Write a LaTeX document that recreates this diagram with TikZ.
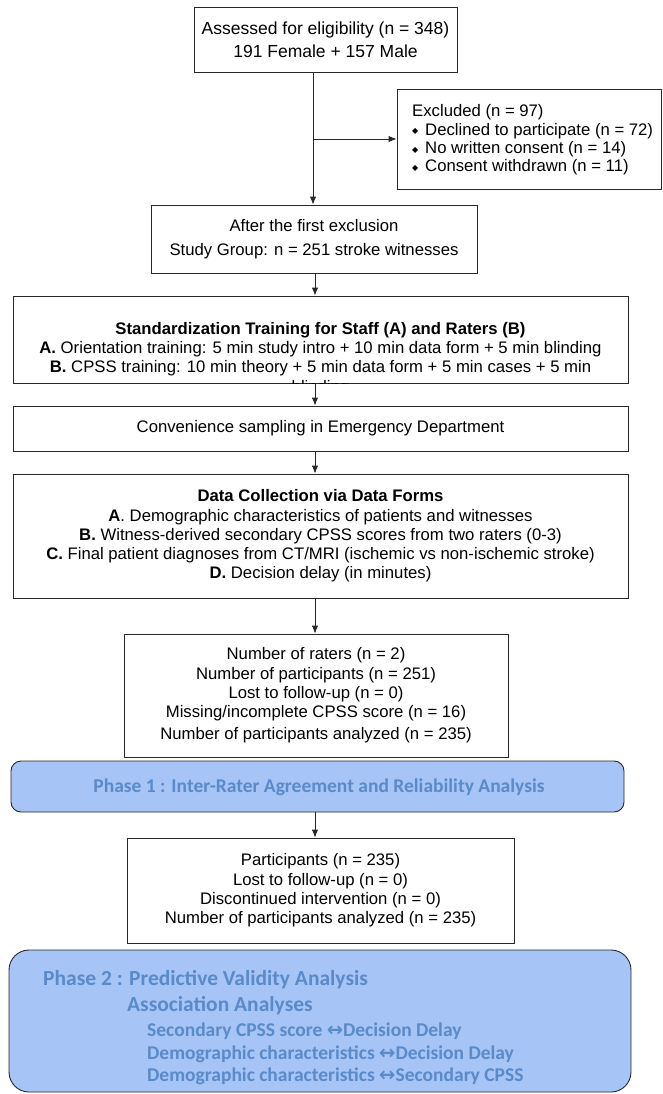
\documentclass[tikz,border=0pt]{standalone}
\usepackage{fontspec}
\setmainfont{Liberation Sans}
\newfontfamily\calfont{Carlito}
\newfontfamily\dvsfont{DejaVu Sans}
\usetikzlibrary{arrows.meta}
\definecolor{phfill}{RGB}{166,196,245}
\definecolor{phtxt}{RGB}{90,138,200}
\definecolor{lineclr}{RGB}{40,40,40}
\newcommand{\dbullet}{\makebox[13pt][l]{\raisebox{1.5pt}{\dvsfont\fontsize{8}{8}\selectfont ◆}}}
\newcommand{\lra}{{\dvsfont ↔}}
\begin{document}
\begin{tikzpicture}[x=1pt,y=-1pt,
  box/.style={draw=lineclr, line width=0.9pt, inner sep=0pt, align=center,
    font=\fontsize{16.7}{19.3}\selectfont},
  txt/.style={inner sep=0pt, align=center, font=\fontsize{16.7}{19.3}\selectfont},
  arr/.style={draw=lineclr, line width=0.9pt, -{Latex[length=8pt,width=6.5pt]}},
  phase/.style={draw=lineclr, line width=0.9pt, fill=phfill, inner sep=0pt},
  phhead/.style={text=phtxt, inner sep=0pt, anchor=base west,
    font=\calfont\bfseries\fontsize{21.5}{25}\selectfont},
  phsub/.style={text=phtxt, inner sep=0pt, anchor=base west,
    font=\calfont\bfseries\fontsize{19.5}{23}\selectfont}
]
\useasboundingbox (0,0) rectangle (663,1094);

% column coordinates for connectors
\coordinate (c1) at (313,0);
\coordinate (c2) at (315,0);
\coordinate (brp) at (313,139);

% boxes
\node[box, minimum width=263pt, minimum height=65pt,
  font=\fontsize{17.5}{23}\selectfont] (top) at (325.5,39.5)
  {Assessed for eligibility (n = 348)\\191 Female + 157 Male};

\node[box, minimum width=264pt, minimum height=100pt] (excl) at (529,139) {};
\node[txt, anchor=west, align=left, font=\fontsize{16.7}{18.4}\selectfont] (excltxt) at (412,140)
  {Excluded (n = 97)\\
   \dbullet Declined to participate (n = 72)\\
   \dbullet No written consent (n = 14)\\
   \dbullet Consent withdrawn (n = 11)};

\node[box, minimum width=326pt, minimum height=68pt,
  font=\fontsize{16.7}{23.5}\selectfont] (study) at (314,239)
  {After the first exclusion\\Study Group: n = 251 stroke witnesses};

\node[box, minimum width=615pt, minimum height=87pt] (std) at (320.5,339.5) {};
\begin{scope}
  \clip (std.north west) rectangle (std.south east);
  \node[txt] (stdtxt) at (320.5,359)
    {\textbf{Standardization Training for Staff (A) and Raters (B)}\\
     \textbf{A.} Orientation training: 5 min study intro + 10 min data form + 5 min blinding\\
     \textbf{B.} CPSS training: 10 min theory + 5 min data form + 5 min cases + 5 min\\
     blinding};
\end{scope}

\node[box, minimum width=615pt, minimum height=45pt] (conv) at (320.5,428.5)
  {Convenience sampling in Emergency Department};

\node[box, minimum width=615pt, minimum height=124pt] (data) at (320.5,536)
  {\textbf{Data Collection via Data Forms}\\
   \textbf{A}. Demographic characteristics of patients and witnesses\\
   \textbf{B.} Witness-derived secondary CPSS scores from two raters (0-3)\\
   \textbf{C.} Final patient diagnoses from CT/MRI (ischemic vs non-ischemic stroke)\\
   \textbf{D.} Decision delay (in minutes)};

\node[box, minimum width=384pt, minimum height=123pt] (nums) at (316,695.5)
  {Number of raters (n = 2)\\
   Number of participants (n = 251)\\
   Lost to follow-up (n = 0)\\
   Missing/incomplete CPSS score (n = 16)\\[3pt]
   Number of participants analyzed (n = 235)};

\node[phase, rounded corners=10pt, minimum width=613pt, minimum height=51pt] (ph1) at (317.5,786.5) {};
\node[phhead, anchor=center, font=\calfont\bfseries\fontsize{19.5}{23}\selectfont] (ph1txt) at (319,787)
  {Phase 1 : Inter-Rater Agreement and Reliability Analysis};

\node[box, minimum width=387pt, minimum height=105pt] (part) at (320.5,890.5)
  {Participants (n = 235)\\
   Lost to follow-up (n = 0)\\
   Discontinued intervention (n = 0)\\
   Number of participants analyzed (n = 235)};

\node[phase, rounded corners=20pt, minimum width=622pt, minimum height=142pt] (ph2) at (320,1021) {};
\node[phhead] (ph2a) at (43,985) {Phase 2 : Predictive Validity Analysis};
\node[phhead] (ph2b) at (127,1011) {Association Analyses};
\node[phsub] (ph2c) at (147,1036) {Secondary CPSS score \lra Decision Delay};
\node[phsub] (ph2d) at (147,1059) {Demographic characteristics \lra Decision Delay};
\node[phsub] (ph2e) at (147,1081) {Demographic characteristics \lra Secondary CPSS};

% connectors
\draw[arr] (top.south -| c1) -- (study.north -| c1);
\draw[arr] (brp) -- (excl.west);
\draw[arr] (study.south -| c2) -- (std.north -| c2);
\draw[arr] (std.south -| c2) -- (conv.north -| c2);
\draw[arr] (conv.south -| c2) -- (data.north -| c2);
\draw[arr] (data.south -| c2) -- (nums.north -| c2);
\draw[arr] (ph1.south -| c2) -- (part.north -| c2);
\end{tikzpicture}
\end{document}
